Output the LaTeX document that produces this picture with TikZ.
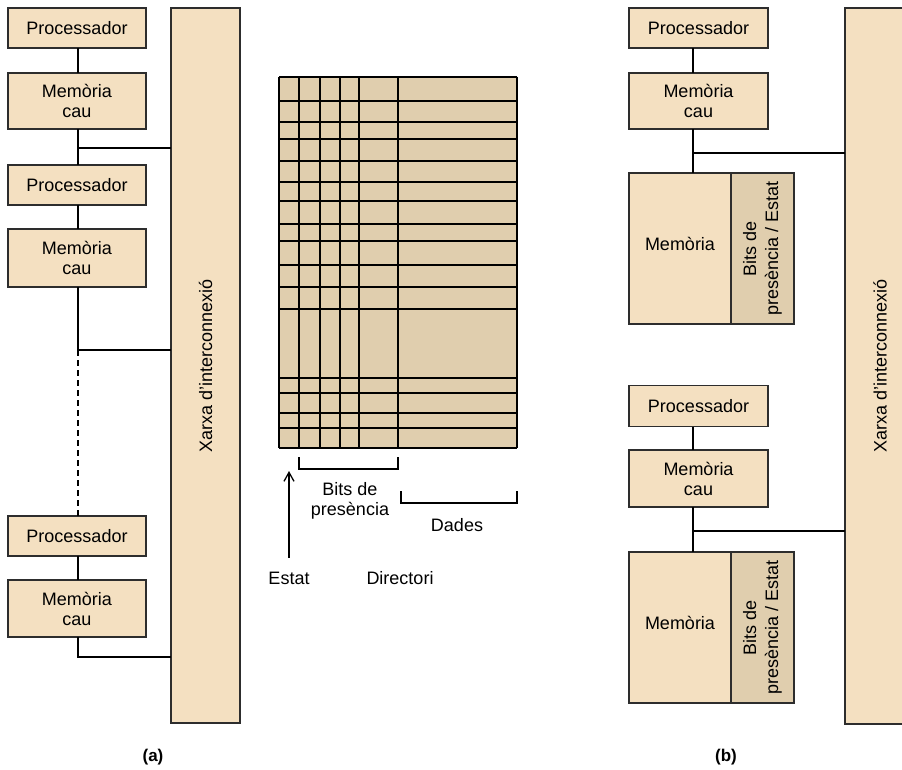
\documentclass[tikz,border=0pt]{standalone}
\usepackage{fontspec}
\setmainfont{Liberation Sans}
\usetikzlibrary{arrows.meta}
\definecolor{boxfill}{RGB}{244,224,193}
\definecolor{gridfill}{RGB}{224,206,174}
\definecolor{edge}{RGB}{45,45,45}
\begin{document}
\begin{tikzpicture}[x=1pt,y=-1pt,
  unit/.style={draw=edge, line width=1.3pt, fill=boxfill, inner sep=0pt, outer sep=0pt,
    align=center, font=\fontsize{18}{20}\selectfont},
  darkunit/.style={unit, fill=gridfill},
  txt/.style={inner sep=0pt, align=center, font=\fontsize{18}{20}\selectfont},
  wire/.style={draw=black, line width=1.3pt},
  gridline/.style={draw=black, line width=2pt},
  caption/.style={inner sep=0pt, font=\fontsize{17}{19}\selectfont\bfseries}
]
\useasboundingbox (0,0) rectangle (902,769);

% ---------------- (a) bus-based system ----------------
\node[unit, minimum width=138pt, minimum height=40pt] (p1) at (77,28) {Processador};
\node[unit, minimum width=138pt, minimum height=56pt] (m1) at (77,101) {Memòria\\cau};
\node[unit, minimum width=138pt, minimum height=40pt] (p2) at (77,185) {Processador};
\node[unit, minimum width=138pt, minimum height=58pt] (m2) at (77,258) {Memòria\\cau};
\node[unit, minimum width=138pt, minimum height=40pt] (p3) at (77,536) {Processador};
\node[unit, minimum width=138pt, minimum height=57pt] (m3) at (77,608.5) {Memòria\\cau};
\node[unit, minimum width=69pt, minimum height=715pt] (xa) at (205.5,365.5) {};
\node[txt, rotate=90] (xalabel) at (xa) {Xarxa d’interconnexió};

\coordinate (ja1) at (78,148);
\coordinate (ja2) at (78,350);
\coordinate (ja3) at (78,657);
\draw[wire] (p1.south -| ja1) -- (m1.north -| ja1);
\draw[wire] (m1.south -| ja1) -- (p2.north -| ja1);
\draw[wire] (ja1) -- (ja1 -| xa.west);
\draw[wire] (p2.south -| ja1) -- (m2.north -| ja1);
\draw[wire] (m2.south -| ja2) -- (ja2) -- (ja2 -| xa.west);
\draw[wire, dash pattern=on 6pt off 4pt] (ja2) -- (p3.north -| ja2);
\draw[wire] (p3.south -| ja3) -- (m3.north -| ja3);
\draw[wire] (m3.south -| ja3) -- (ja3) -- (ja3 -| xa.west);

% ---------------- directory table ----------------
\fill[gridfill] (279,76.5) rectangle (517,448);
\foreach \y in {76.5,100.5,121.5,138.5,160.5,181.5,201,223.5,240.5,264.5,286.5,309,377.5,393,412.5,427.5,448}
  \draw[gridline] (279,\y) -- (517,\y);
\foreach \x in {279,299,319.5,339.5,359,398,517}
  \draw[gridline] (\x,76.5) -- (\x,448);

\draw[wire] (299,457) -- (299,469) -- (398,469) -- (398,457);
\draw[wire] (401,491) -- (401,503) -- (517,503) -- (517,491);

\node[txt] (bitsp) at (350,501) {Bits de\\presència};
\node[txt] (dades) at (457,525) {Dades};
\node[txt] (estat) at (289,578) {Estat};
\node[txt] (dir) at (400,578) {Directori};
\coordinate (estattip) at (289,471);
\draw[wire, -{Straight Barb[length=9pt,width=10pt,line width=1.3pt]}] ([yshift=14pt]estat.north) -- (estattip);

% ---------------- (b) distributed directory ----------------
\node[unit, minimum width=139pt, minimum height=40pt] (pb1) at (698.5,28) {Processador};
\node[unit, minimum width=139pt, minimum height=56pt] (mb1) at (698.5,101) {Memòria\\cau};
\node[unit, minimum width=102pt, minimum height=151pt] (mem1) at (680,248.5) {};
\node[txt] (mem1label) at (680,244) {Memòria};
\node[darkunit, minimum width=63pt, minimum height=151pt] (bits1) at (762.5,248.5) {};
\node[txt, rotate=90, font=\fontsize{18}{22}\selectfont] at (bits1) {Bits de\\presència / Estat};

\node[unit, minimum width=139pt, minimum height=41pt] (pb2) at (698.5,406) {Processador};
\node[unit, minimum width=139pt, minimum height=57pt] (mb2) at (698.5,478.5) {Memòria\\cau};
\node[unit, minimum width=102pt, minimum height=151pt] (mem2) at (680,627.5) {};
\node[txt] (mem2label) at (680,623) {Memòria};
\node[darkunit, minimum width=63pt, minimum height=151pt] (bits2) at (762.5,627.5) {};
\node[txt, rotate=90, font=\fontsize{18}{22}\selectfont] at (bits2) {Bits de\\presència / Estat};

\node[unit, minimum width=70pt, minimum height=716pt] (xb) at (880,366) {};
\node[txt, rotate=90] (xblabel) at (xb) {Xarxa d’interconnexió};

\coordinate (jb1) at (693,153);
\coordinate (jb2) at (693,531);
\draw[wire] (pb1.south -| jb1) -- (mb1.north -| jb1);
\draw[wire] (mb1.south -| jb1) -- (mem1.north -| jb1);
\draw[wire] (jb1) -- (jb1 -| xb.west);
\draw[wire] (pb2.south -| jb2) -- (mb2.north -| jb2);
\draw[wire] (mb2.south -| jb2) -- (mem2.north -| jb2);
\draw[wire] (jb2) -- (jb2 -| xb.west);

% ---------------- captions ----------------
\node[caption] (capa) at (153,757) {(a)};
\node[caption] (capb) at (726,757) {(b)};
\end{tikzpicture}
\end{document}
